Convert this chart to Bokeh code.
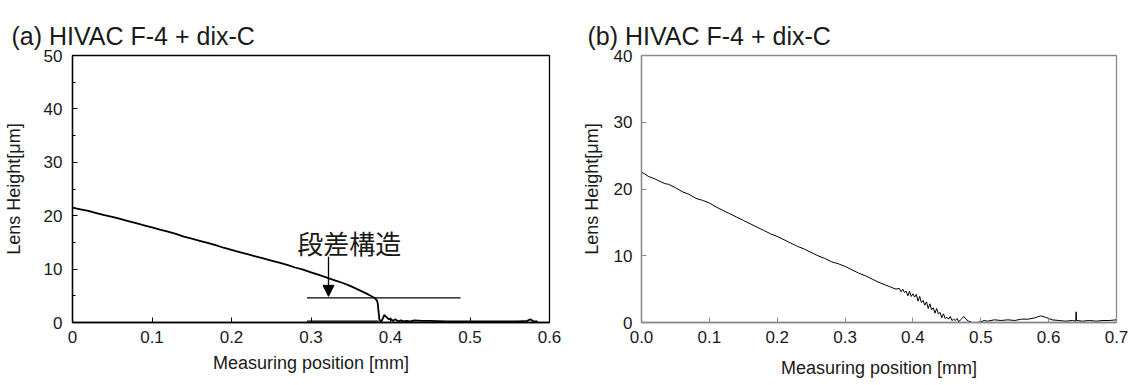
from bokeh.plotting import figure
from bokeh.layouts import row
from bokeh.models import Range1d, FixedTicker, Label, Arrow, NormalHead, NumeralTickFormatter, Title
from bokeh.embed import file_html
from bokeh.resources import INLINE

# ---------------- data: panel (a) ----------------
a_x = [0.000, 0.010, 0.020, 0.030, 0.040, 0.050, 0.060, 0.070, 0.080, 0.090,
       0.100, 0.110, 0.120, 0.130, 0.140, 0.150, 0.160, 0.170, 0.180, 0.190,
       0.200, 0.210, 0.220, 0.230, 0.240, 0.250, 0.260, 0.270, 0.280, 0.290,
       0.300, 0.310, 0.320, 0.330, 0.340, 0.350, 0.360, 0.370, 0.375, 0.380,
       0.383, 0.384, 0.386, 0.388, 0.390, 0.392, 0.395, 0.398, 0.400, 0.403,
       0.406, 0.410, 0.413, 0.417, 0.420, 0.425, 0.430, 0.440, 0.450, 0.470,
       0.500, 0.530, 0.560, 0.572, 0.576, 0.580, 0.585]
a_y = [21.5, 21.2, 20.9, 20.5, 20.1, 19.8, 19.4, 19.0, 18.6, 18.2,
       17.8, 17.4, 17.0, 16.6, 16.1, 15.7, 15.3, 14.9, 14.5, 14.0,
       13.6, 13.2, 12.8, 12.4, 12.0, 11.6, 11.2, 10.8, 10.3, 9.9,
       9.4, 8.9, 8.4, 7.9, 7.4, 6.8, 6.1, 5.4, 5.0, 4.6,
       4.1, 3.5, 0.6, 0.1, 0.6, 1.4, 1.0, 0.6, 0.7, 0.3,
       0.6, 0.2, 0.4, 0.2, 0.3, 0.2, 0.4, 0.3, 0.3, 0.2,
       0.2, 0.2, 0.2, 0.3, 0.6, 0.2, 0.2]

# annotation for (a): step structure
a_note_text = "段差構造"
a_hline = [0.295, 0.488, 4.6]    # x0, x1, y
a_base = [0.295, 0.385, 0.25]    # x0, x1, y
a_arrow = [0.322, 12.3, 4.9]     # x, y_start, y_end

# ---------------- data: panel (b) ----------------
b_x = [0.000, 0.004, 0.010, 0.020, 0.030, 0.035, 0.040, 0.050, 0.060, 0.070,
       0.080, 0.090, 0.100, 0.110, 0.120, 0.130, 0.140, 0.150, 0.160, 0.170,
       0.180, 0.190, 0.200, 0.210, 0.220, 0.230, 0.240, 0.250, 0.260, 0.270,
       0.280, 0.290, 0.300, 0.310, 0.320, 0.330, 0.340, 0.350, 0.360, 0.365,
       0.370, 0.375,
       0.3800, 0.3825, 0.3850, 0.3875, 0.3900, 0.3925, 0.3950, 0.3975, 0.4000, 0.4025,
       0.4050, 0.4075, 0.4100, 0.4125, 0.4150, 0.4175, 0.4200, 0.4225, 0.4250, 0.4275,
       0.4300, 0.4325, 0.4350, 0.4375, 0.4400, 0.4425, 0.4450, 0.4475, 0.4500, 0.4525,
       0.4550, 0.4575, 0.4600, 0.4625, 0.4650, 0.4675, 0.4700,
       0.4750, 0.4780, 0.4820, 0.4870, 0.4950, 0.5000, 0.5050, 0.5100, 0.5200, 0.5300,
       0.5400, 0.5500, 0.5600, 0.5700, 0.5800, 0.5880, 0.5950, 0.6050, 0.6150, 0.6250,
       0.6350, 0.6400, 0.6405, 0.6410, 0.6500, 0.6600, 0.6700, 0.6800, 0.6900, 0.7000]
b_y = [22.5, 22.3, 21.9, 21.5, 21.0, 20.8, 20.7, 20.2, 19.6, 19.2,
       18.6, 18.3, 17.9, 17.3, 16.8, 16.3, 15.8, 15.3, 14.8, 14.3,
       13.8, 13.3, 12.9, 12.4, 11.9, 11.4, 11.0, 10.5, 10.0, 9.6,
       9.1, 8.8, 8.4, 7.9, 7.4, 7.0, 6.5, 6.0, 5.6, 5.4,
       5.2, 5.0,
       5.1, 4.6, 5.0, 4.5, 4.7, 4.0, 4.7, 3.9, 4.3, 3.8,
       4.2, 3.2, 3.9, 3.0, 3.3, 2.6, 3.1, 2.1, 2.8, 1.9,
       2.2, 1.4, 2.1, 1.3, 1.5, 0.7, 1.3, 0.6, 0.8, 0.5,
       0.9, 0.3, 0.5, 0.3, 0.6, 0.1, 0.4,
       0.9, 0.5, 0.2, 0.0, 0.0, 0.1, 0.3, 0.2, 0.4, 0.3,
       0.4, 0.3, 0.5, 0.5, 0.7, 1.0, 0.8, 0.4, 0.3, 0.2,
       0.3, 0.2, 1.6, 0.3, 0.2, 0.3, 0.2, 0.3, 0.3, 0.4]

a_xticks = [0, 0.1, 0.2, 0.3, 0.4, 0.5, 0.6]
a_yticks = [0, 10, 20, 30, 40, 50]
a_yminor = [5, 15, 25, 35, 45]
b_xticks = [0, 0.1, 0.2, 0.3, 0.4, 0.5, 0.6, 0.7]
b_yticks = [0, 10, 20, 30, 40]

titles = ["(a) HIVAC F-4 + dix-C", "(b) HIVAC F-4 + dix-C"]
xlabel = "Measuring position [mm]"
ylabel = "Lens Height[μm]"

FONT = "Liberation Sans"
TXT = "#1a1a1a"


def style(p, frame_color):
    p.grid.visible = False
    p.outline_line_color = frame_color
    p.outline_line_width = 1.3
    p.background_fill_color = "white"
    p.border_fill_color = "white"
    for ax in (p.xaxis[0], p.yaxis[0]):
        ax.axis_line_color = frame_color
        ax.axis_line_width = 1.3
        ax.major_tick_in = 5
        ax.major_tick_out = 0
        ax.minor_tick_in = 3
        ax.minor_tick_out = 0
        ax.major_tick_line_color = frame_color
        ax.minor_tick_line_color = frame_color
        ax.major_label_text_font = FONT
        ax.major_label_text_font_size = "17px"
        ax.major_label_text_color = TXT
        ax.axis_label_text_font = FONT
        ax.axis_label_text_font_size = "18px"
        ax.axis_label_text_font_style = "normal"
        ax.axis_label_text_color = TXT
    p.xaxis.axis_label = xlabel
    p.yaxis.axis_label = ylabel


def make_title(text, offset):
    return Title(text=text, align="left", offset=offset, standoff=12,
                 text_font=FONT, text_font_size="25px", text_font_style="normal",
                 text_color=TXT)


# ---------------- figure (a) ----------------
pa = figure(width=575, height=385, output_backend="svg", toolbar_location=None,
            x_range=Range1d(0, 0.6), y_range=Range1d(0, 50),
            title=make_title(titles[0], -61),
            min_border_left=71, min_border_right=26, min_border_top=55, min_border_bottom=63)
style(pa, "black")
pa.xaxis.ticker = FixedTicker(ticks=a_xticks)
pa.xaxis.minor_tick_line_color = None
pa.xaxis.major_label_overrides = {0: "0"}
pa.yaxis.ticker = FixedTicker(ticks=a_yticks, minor_ticks=a_yminor)
pa.xaxis.major_label_standoff = 8
pa.xaxis.axis_label_standoff = 7
pa.yaxis.major_label_standoff = 10
pa.yaxis.axis_label_standoff = 17

pa.line(a_x, a_y, line_color="black", line_width=1.8)
pa.segment(x0=[a_hline[0], a_base[0]], y0=[a_hline[2], a_base[2]],
           x1=[a_hline[1], a_base[1]], y1=[a_hline[2], a_base[2]],
           line_color="black", line_width=1.3)
pa.add_layout(Arrow(end=NormalHead(size=11, fill_color="black", line_color="black"),
                    x_start=a_arrow[0], y_start=a_arrow[1], x_end=a_arrow[0], y_end=a_arrow[2],
                    line_color="black", line_width=1.3))
pa.add_layout(Label(x=0.348, y=15.0, text=a_note_text, text_font="Noto Sans CJK JP",
                    text_font_size="26px", text_align="center", text_baseline="middle",
                    text_color=TXT))

# ---------------- figure (b) ----------------
pb = figure(width=556, height=385, output_backend="svg", toolbar_location=None,
            x_range=Range1d(0, 0.7), y_range=Range1d(0, 40),
            title=make_title(titles[1], -54),
            min_border_left=66, min_border_right=15, min_border_top=52, min_border_bottom=56)
style(pb, "#8a8a8a")
pb.xaxis.ticker = FixedTicker(ticks=b_xticks)
pb.xaxis.formatter = NumeralTickFormatter(format="0.0")
pb.yaxis.ticker = FixedTicker(ticks=b_yticks)
pb.xaxis.major_label_standoff = 8
pb.xaxis.axis_label_standoff = 12
pb.yaxis.major_label_standoff = 9
pb.yaxis.axis_label_standoff = 9

pb.line(b_x, b_y, line_color="black", line_width=1.0)

layout = row(pa, pb, spacing=0)
open("out.html", "w").write(file_html(layout, INLINE))
